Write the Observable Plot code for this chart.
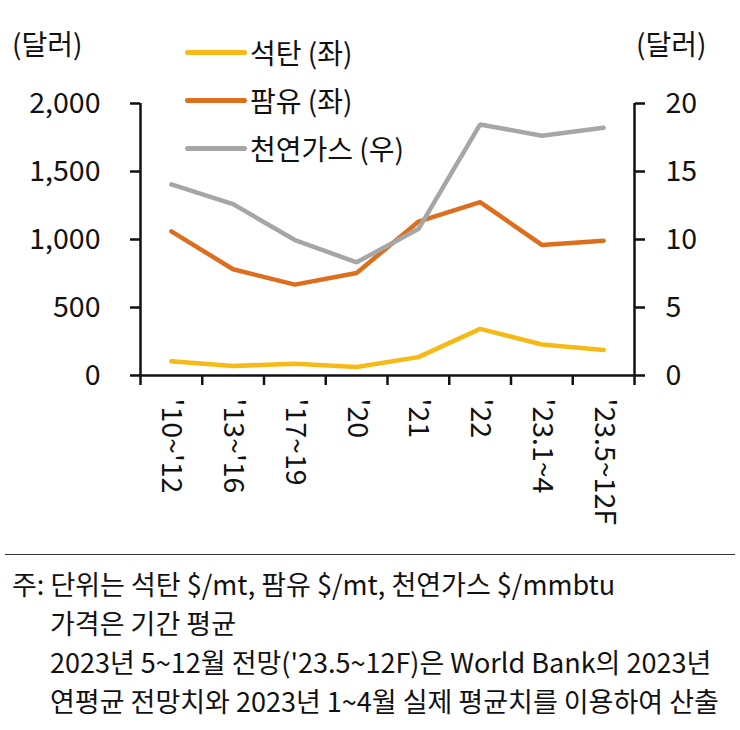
<!DOCTYPE html>
<html>
<head>
<meta charset="utf-8">
<script src="https://cdn.jsdelivr.net/npm/d3@7"></script>
<script src="https://cdn.jsdelivr.net/npm/@observablehq/plot@0.6"></script>
<style>
  html, body { margin: 0; padding: 0; background: #fff; }
  body { width: 740px; height: 730px; position: relative; overflow: hidden;
         font-family: "Noto Sans CJK KR", "Noto Sans", sans-serif; color: #111; }
  #chart { position: absolute; left: 0; top: 0; }
  .abs { position: absolute; white-space: nowrap; line-height: 1; }
  .unit { font-size: 28px; }
  .leg { position: absolute; left: 185px; height: 0; }
  .leg .sw { position: absolute; left: 0; width: 62px; height: 5px; top: -2.5px; border-radius: 3px; }
  .leg .tx { position: absolute; left: 65px; top: -16px; font-size: 28px; line-height: 32px; white-space: nowrap; }
  .foot { font-size: 27px; }
</style>
</head>
<body>
<div class="abs" style="left:0;top:3px;width:740px;height:0;border-top:1.5px solid #222;"></div>
<div id="chart"></div>
<div class="abs unit" style="left:12px;top:29px;">(달러)</div>
<div class="abs unit" style="left:636px;top:29px;">(달러)</div>
<div id="legend"></div>
<div class="abs" style="left:5px;top:554px;width:730px;height:0;border-top:1.5px solid #333;"></div>
<div class="abs foot" style="left:12px;top:570px;">주: 단위는 석탄 $/mt, 팜유 $/mt, 천연가스 $/mmbtu</div>
<div class="abs foot" style="left:50px;top:609px;">가격은 기간 평균</div>
<div class="abs foot" style="left:50px;top:648px;">2023년 5~12월 전망('23.5~12F)은 World Bank의 2023년</div>
<div class="abs foot" style="left:50px;top:687px;">연평균 전망치와 2023년 1~4월 실제 평균치를 이용하여 산출</div>
<script>
const categories = ["'10~'12", "'13~'16", "'17~19", "'20", "'21", "'22", "'23.1~4", "'23.5~12F"];
const coal = [105, 70, 87, 62, 135, 343, 228, 188];          // 석탄 (좌), $/mt
const palm = [1060, 781, 668, 754, 1131, 1275, 960, 991];     // 팜유 (좌), $/mt
const gas  = [14.05, 12.6, 9.96, 8.32, 10.77, 18.46, 17.63, 18.21]; // 천연가스 (우), $/mmbtu
const leftTicks = [0, 500, 1000, 1500, 2000];
const rightTicks = [0, 5, 10, 15, 20];
const seriesNames = ["석탄 (좌)", "팜유 (좌)", "천연가스 (우)"];
const seriesColors = ["#F5BA18", "#DC6E1E", "#A6A6A6"];

const RATIO = 100; // right axis scale factor (20 -> 2000)
const rows = (vals, name, k) => vals.map((v, i) => ({x: i + 0.5, y: v * k, name}));
const data = [
  ...rows(coal, seriesNames[0], 1),
  ...rows(palm, seriesNames[1], 1),
  ...rows(gas, seriesNames[2], RATIO)
];

const H = 552;
const fontSize = 28.5;
const chart = Plot.plot({
  width: 740,
  height: H,
  marginLeft: 140,
  marginRight: 106,
  marginTop: 103,
  marginBottom: H - 375,
  style: {fontFamily: '"Noto Sans CJK KR", "Noto Sans", sans-serif', fontSize: fontSize + "px", color: "#111", background: "#fff"},
  x: {type: "linear", domain: [0, categories.length], axis: null},
  y: {domain: [0, 2000], axis: null},
  color: {domain: seriesNames, range: seriesColors},
  marks: [
    Plot.axisY({anchor: "left", label: null, ticks: leftTicks, tickSize: 10, tickPadding: 30, tickFormat: d3.format(","), fontSize: fontSize, strokeWidth: 2.5, stroke: "#111"}),
    Plot.axisY({anchor: "right", label: null, ticks: rightTicks.map(d => d * RATIO), tickSize: 10, tickPadding: 21, tickFormat: d => d / RATIO, fontSize: fontSize, strokeWidth: 2.5, stroke: "#111"}),
    Plot.axisX({anchor: "bottom", label: null, ticks: d3.range(categories.length + 1), tickSize: 10, tickFormat: () => "", strokeWidth: 2.5, stroke: "#111"}),
    Plot.text(categories, {x: (d, i) => i + 0.5, frameAnchor: "bottom", text: d => d, rotate: 90, textAnchor: "start", lineAnchor: "middle", dy: 23, fontSize: fontSize, fill: "#111"}),
    Plot.ruleX([0, categories.length], {stroke: "#111", strokeWidth: 2.5}),
    Plot.ruleY([0], {stroke: "#111", strokeWidth: 2.5}),
    Plot.line(data, {x: "x", y: "y", z: "name", stroke: "name", strokeWidth: 4.5, strokeLinejoin: "miter"})
  ]
});
document.getElementById("chart").appendChild(chart);

const legendY = [52, 100, 148];
const legend = document.getElementById("legend");
seriesNames.forEach((name, i) => {
  const el = document.createElement("div");
  el.className = "leg";
  el.style.top = legendY[i] + "px";
  el.innerHTML = `<div class="sw" style="background:${seriesColors[i]}"></div><div class="tx">${name}</div>`;
  legend.appendChild(el);
});
</script>
</body>
</html>
